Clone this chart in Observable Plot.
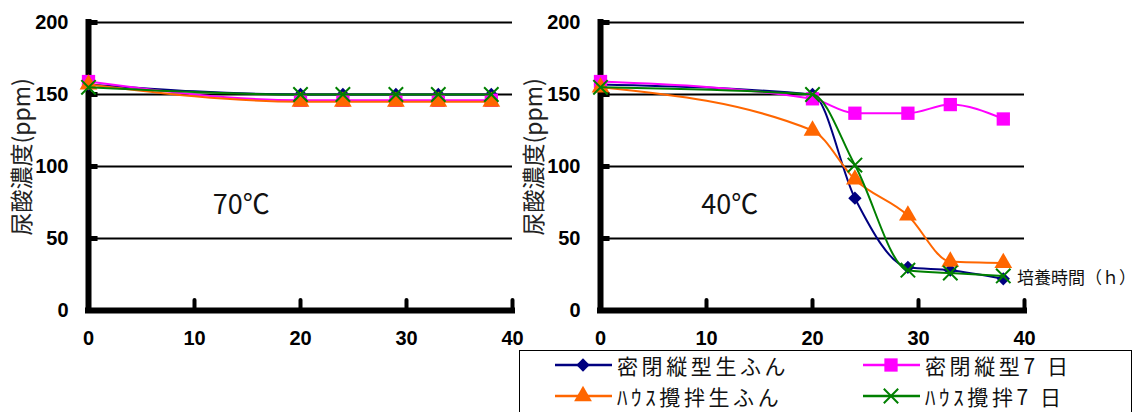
<!DOCTYPE html>
<html><head><meta charset="utf-8">
<script src="https://cdn.jsdelivr.net/npm/d3@7"></script>
<script src="https://cdn.jsdelivr.net/npm/@observablehq/plot@0.6"></script>
<style>
body{margin:0;background:#fff;}
#wrap{position:relative;width:1139px;height:412px;overflow:hidden;background:#fff;}
#p70{position:absolute;left:0;top:0;}
#p40{position:absolute;left:512px;top:0;}
#legend{position:absolute;left:519px;top:350px;width:613px;height:90px;border:1.5px solid #000;box-sizing:border-box;background:#fff}
.item{position:absolute;height:24px;display:flex;align-items:center;}
.item svg{display:block}
.item span{font-family:"Noto Sans CJK JP";font-size:21px;letter-spacing:3.6px;margin-left:5px;color:#111;line-height:24px;white-space:nowrap}
</style></head>
<body>
<div id="wrap">
  <div id="p70"></div>
  <div id="p40"></div>
  <div id="legend"></div>
</div>
<script>
// ---- data ----
const hours = [0, 20, 24, 29, 33, 38];
const seriesNames = ["密閉縦型生ふん", "密閉縦型7 日", "ﾊｳｽ攪拌生ふん", "ﾊｳｽ攪拌7 日"];
const seriesColors = ["#000080", "#FF00FF", "#FF6600", "#008000"];
// 70℃
const t70_closedRaw = [157, 150, 150, 150, 150, 150];
const t70_closed7   = [159, 146, 146, 146, 146, 146];
const t70_houseRaw  = [157, 145, 145, 145, 145, 145];
const t70_house7    = [155, 150, 150, 150, 150, 150];
// 40℃
const t40_closedRaw = [157, 150, 78, 30, 28, 22];
const t40_closed7   = [159, 147, 137, 137, 143, 133];
const t40_houseRaw  = [155, 125, 91, 66, 34, 33];
const t40_house7    = [155, 150, 101, 28, 26, 24];
// axes
const xTicks = [0, 10, 20, 30, 40];
const yTicks = [0, 50, 100, 150, 200];
const gridValues = [50, 100, 150, 200];
const yTitle = "尿酸濃度(ppm)";
const xTitle = "培養時間（ｈ）";
const panelLabels = ["70℃", "40℃"];

// marker styles
const symbols = ["diamond2", "square", "triangle", "times"];
const radii = [6, 7.5, 6.6, 6.6];

function rows(vals) { return hours.map((h, i) => ({h, v: vals[i]})); }

function panel(seriesVals, label, labelX, withXTitle, width, marginRight) {
  const marks = [
    Plot.ruleY(gridValues, {x1: 0, x2: 40, stroke: "#000", strokeWidth: 2}),
    Plot.ruleY(gridValues, {x1: 0, x2: 0.9, stroke: "#000", strokeWidth: 5}),
    Plot.ruleX(xTicks.slice(1), {y1: 0, y2: 7, stroke: "#000", strokeWidth: 4, strokeLinecap: "round"}),
    Plot.ruleX([0], {y1: 0, y2: 200, stroke: "#000", strokeWidth: 6, strokeLinecap: "square"}),
    Plot.ruleY([0], {x1: 0, x2: 40, stroke: "#000", strokeWidth: 6, strokeLinecap: "square"}),
    Plot.axisX(xTicks, {tickSize: 0, tickPadding: 20, label: null}),
    Plot.axisY(yTicks, {tickSize: 0, tickPadding: 20, label: null}),
    Plot.text([yTitle], {frameAnchor: "left", y: [52], text: d => d, rotate: -90, dx: -66,
      fontFamily: "Noto Sans CJK JP", fontSize: 23, fontWeight: "normal", fill: "#222"})
  ];
  seriesVals.forEach((vals, i) => {
    const data = rows(vals);
    marks.push(Plot.line(data, {x: "h", y: "v", stroke: seriesColors[i], strokeWidth: 2, curve: "monotone-x"}));
    if (symbols[i] === "times") {
      marks.push(Plot.dot(data, {x: "h", y: "v", symbol: "times", r: radii[i], stroke: seriesColors[i], strokeWidth: 2, fill: "none"}));
    } else {
      marks.push(Plot.dot(data, {x: "h", y: "v", symbol: symbols[i], r: radii[i], fill: seriesColors[i], stroke: "none"}));
    }
  });
  marks.push(Plot.text([label], {x: [labelX], y: [73], text: d => d, fontFamily: "Noto Sans CJK JP", fontSize: 27, fontWeight: "normal", fill: "#111"}));
  if (withXTitle) {
    marks.push(Plot.text([xTitle], {x: [39.3], y: [22], text: d => d, textAnchor: "start", fontFamily: "Noto Sans CJK JP", fontSize: 17, fontWeight: "normal", fill: "#111"}));
  }
  return Plot.plot({
    width, height: 350,
    marginLeft: 88, marginRight, marginTop: 22, marginBottom: 40,
    x: {domain: [0, 40]},
    y: {domain: [0, 200]},
    style: {fontFamily: "Liberation Sans", fontSize: "20px", fontWeight: "bold", color: "#000", background: "transparent", overflow: "visible"},
    marks
  });
}

document.getElementById("p70").appendChild(
  panel([t70_closedRaw, t70_closed7, t70_houseRaw, t70_house7], panelLabels[0], 14.4, false, 530, 18));
document.getElementById("p40").appendChild(
  panel([t40_closedRaw, t40_closed7, t40_houseRaw, t40_house7], panelLabels[1], 12.2, true, 627, 115));

// ---- legend ----
const legend = d3.select("#legend");
const pos = [[35, 2], [343, 2], [35, 33], [343, 33]];
const d3sym = {diamond2: d3.symbolDiamond2, square: d3.symbolSquare, triangle: d3.symbolTriangle, times: d3.symbolTimes};
seriesNames.forEach((name, i) => {
  const item = legend.append("div").attr("class", "item").style("left", pos[i][0] + "px").style("top", pos[i][1] + "px");
  const svg = item.append("svg").attr("width", 57).attr("height", 24);
  svg.append("line").attr("x1", 0).attr("x2", 57).attr("y1", 12).attr("y2", 12).attr("stroke", seriesColors[i]).attr("stroke-width", 2.5);
  const r = radii[i];
  const path = svg.append("path").attr("transform", "translate(28,12)")
    .attr("d", d3.symbol(d3sym[symbols[i]], r * r * Math.PI)());
  if (symbols[i] === "times") path.attr("fill", "none").attr("stroke", seriesColors[i]).attr("stroke-width", 2);
  else path.attr("fill", seriesColors[i]);
  item.append("span").text(name);
});
</script>
</body></html>
